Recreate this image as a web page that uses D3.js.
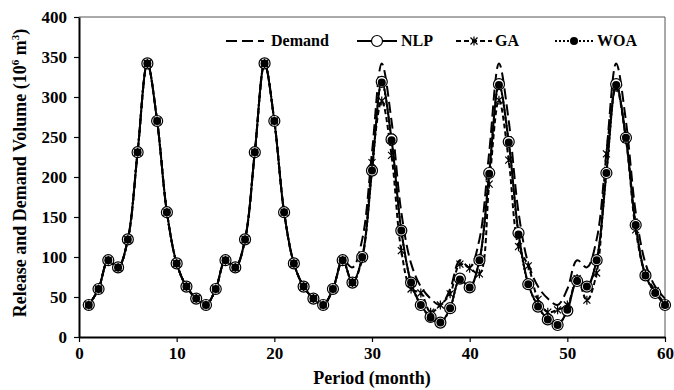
<!DOCTYPE html>
<html>
<head>
<meta charset="utf-8">
<script src="https://cdn.jsdelivr.net/npm/d3@7"></script>
<style>
  body { margin: 0; background: #fff; }
  svg { display: block; font-family: "Liberation Serif", "Times New Roman", serif; font-weight: bold; }
</style>
</head>
<body>
<div id="chart"></div>
<script>
// monthly values, periods 1..60
const months = d3.range(1, 61);
const demand = [
  40, 60, 96, 87, 122, 231, 342, 270, 156, 92, 63, 48,
  40, 60, 96, 87, 122, 231, 342, 270, 156, 92, 63, 48,
  40, 60, 96, 87, 122, 231, 342, 270, 156, 92, 63, 48,
  40, 60, 96, 87, 122, 231, 342, 270, 156, 92, 63, 48,
  40, 60, 96, 87, 122, 231, 342, 270, 156, 92, 63, 48
];
const nlp = [
  40, 60, 96, 87, 122, 231, 342, 270, 156, 92, 63, 48,
  40, 60, 96, 87, 122, 231, 342, 270, 156, 92, 63, 48,
  40, 60, 96, 68, 100, 208, 319, 247, 133, 68, 40, 25,
  18, 36, 73, 62, 96, 205, 316, 244, 130, 66, 38, 22,
  15, 33, 70, 63, 96, 205, 316, 249, 140, 77, 55, 40
];
const ga = [
  40, 60, 96, 87, 122, 231, 342, 270, 156, 92, 63, 48,
  40, 60, 96, 87, 122, 231, 342, 270, 156, 92, 63, 48,
  40, 60, 96, 68, 98, 218, 295, 227, 108, 60, 55, 31,
  40, 54, 91, 86, 79, 191, 296, 221, 113, 89, 47, 31,
  34, 40, 73, 46, 80, 229, 312, 247, 134, 78, 58, 41
];
const woa = [
  40, 60, 96, 87, 122, 231, 342, 270, 156, 92, 63, 48,
  40, 60, 96, 87, 122, 231, 342, 270, 156, 92, 63, 48,
  40, 60, 96, 68, 100, 208, 318, 246, 133, 68, 40, 24,
  18, 36, 72, 62, 96, 204, 315, 243, 128, 66, 38, 22,
  15, 34, 70, 63, 96, 205, 315, 249, 140, 77, 55, 40
];
const xTicks = [0, 10, 20, 30, 40, 50, 60];
const yTicks = [0, 50, 100, 150, 200, 250, 300, 350, 400];
const seriesNames = ["Demand", "NLP", "GA", "WOA"];

const width = 674, height = 390;
const pLeft = 79, pRight = 665, pTop = 17, pBottom = 337;

const svg = d3.select("#chart").append("svg")
  .attr("width", width)
  .attr("height", height);

const x = d3.scaleLinear().domain([0, 60]).range([pLeft, pRight]);
const y = d3.scaleLinear().domain([0, 400]).range([pBottom, pTop]);

// frame (top & right)
svg.append("path")
  .attr("d", `M${pLeft},${pTop}H${pRight}V${pBottom}`)
  .attr("fill", "none")
  .attr("stroke", "#555")
  .attr("stroke-width", 1);

const line = vals => d3.line()
  .x((d, i) => x(months[i]))
  .y(d => y(d))
  .curve(d3.curveCatmullRom.alpha(0.5))(vals);

const plot = svg.append("g");

// Demand
plot.append("path").attr("d", line(demand))
  .attr("fill", "none").attr("stroke", "#000").attr("stroke-width", 2)
  .attr("stroke-dasharray", "11,5");

// NLP
plot.append("path").attr("d", line(nlp))
  .attr("fill", "none").attr("stroke", "#000").attr("stroke-width", 2);

// GA
plot.append("path").attr("d", line(ga))
  .attr("fill", "none").attr("stroke", "#000").attr("stroke-width", 2)
  .attr("stroke-dasharray", "5,3");

// WOA
plot.append("path").attr("d", line(woa))
  .attr("fill", "none").attr("stroke", "#000").attr("stroke-width", 2)
  .attr("stroke-dasharray", "2,2");

const star = (s) => `M${-s},${-s}L${s},${s}M${-s},${s}L${s},${-s}M0,${-s * 1.3}V${s * 1.3}`;

plot.selectAll(".nlp").data(nlp).join("circle")
  .attr("cx", (d, i) => x(months[i])).attr("cy", d => y(d))
  .attr("r", 5.5).attr("fill", "#fff").attr("stroke", "#000").attr("stroke-width", 1.2);

plot.selectAll(".ga").data(ga).join("path")
  .attr("transform", (d, i) => `translate(${x(months[i])},${y(d)})`)
  .attr("d", star(3.5)).attr("stroke", "#000").attr("stroke-width", 1.2);

plot.selectAll(".woa").data(woa).join("circle")
  .attr("cx", (d, i) => x(months[i])).attr("cy", d => y(d))
  .attr("r", 4).attr("fill", "#000");

// axes
const xAxis = svg.append("g")
  .attr("transform", `translate(0,${pBottom})`)
  .call(d3.axisBottom(x).tickValues(xTicks).tickSize(5).tickSizeOuter(0));
const yAxis = svg.append("g")
  .attr("transform", `translate(${pLeft},0)`)
  .call(d3.axisLeft(y).tickValues(yTicks).tickSize(5).tickSizeOuter(0));

[xAxis, yAxis].forEach(a => {
  a.select(".domain").attr("stroke", "#000").attr("stroke-width", 2);
  a.selectAll(".tick line").attr("stroke", "#000").attr("stroke-width", 1.2);
  a.selectAll("text").attr("fill", "#000")
    .style("font-family", "Liberation Serif, Times New Roman, serif")
    .style("font-weight", "bold").style("font-size", "17px");
});
xAxis.selectAll("text").attr("dy", "0.85em");
yAxis.selectAll("text").attr("x", -12);

svg.append("text")
  .attr("x", (pLeft + pRight) / 2).attr("y", 384)
  .attr("text-anchor", "middle").style("font-size", "18px")
  .text("Period (month)");

const yt = svg.append("text")
  .attr("transform", `translate(26,${(pTop + pBottom) / 2 - 4}) rotate(-90)`)
  .attr("text-anchor", "middle").style("font-size", "18px");
yt.append("tspan").text("Release and Demand Volume (10");
yt.append("tspan").attr("dy", -7).style("font-size", "11px").text("6");
yt.append("tspan").attr("dy", 7).text(" m");
yt.append("tspan").attr("dy", -7).style("font-size", "11px").text("3");
yt.append("tspan").attr("dy", 7).text(")");

// legend
const legY = 41;
const leg = svg.append("g");
const items = [
  { name: seriesNames[0], x0: 226, x1: 264, tx: 271, dash: "11,5" },
  { name: seriesNames[1], x0: 357, x1: 397, tx: 401, dash: null, marker: "open" },
  { name: seriesNames[2], x0: 456, x1: 492, tx: 495, dash: "5,3", marker: "star" },
  { name: seriesNames[3], x0: 555, x1: 593, tx: 597, dash: "2,2", marker: "dot" }
];
items.forEach(it => {
  leg.append("line").attr("x1", it.x0).attr("x2", it.x1).attr("y1", legY).attr("y2", legY)
    .attr("stroke", "#000").attr("stroke-width", 2)
    .attr("stroke-dasharray", it.dash);
  const cx = (it.x0 + it.x1) / 2;
  if (it.marker === "open") leg.append("circle").attr("cx", cx).attr("cy", legY).attr("r", 5.5)
    .attr("fill", "#fff").attr("stroke", "#000").attr("stroke-width", 1.2);
  if (it.marker === "star") leg.append("path").attr("transform", `translate(${cx},${legY})`)
    .attr("d", star(3.5)).attr("stroke", "#000").attr("stroke-width", 1.2);
  if (it.marker === "dot") leg.append("circle").attr("cx", cx).attr("cy", legY).attr("r", 4).attr("fill", "#000");
  leg.append("text").attr("x", it.tx).attr("y", legY + 5).style("font-size", "16px").text(it.name);
});
</script>
</body>
</html>
